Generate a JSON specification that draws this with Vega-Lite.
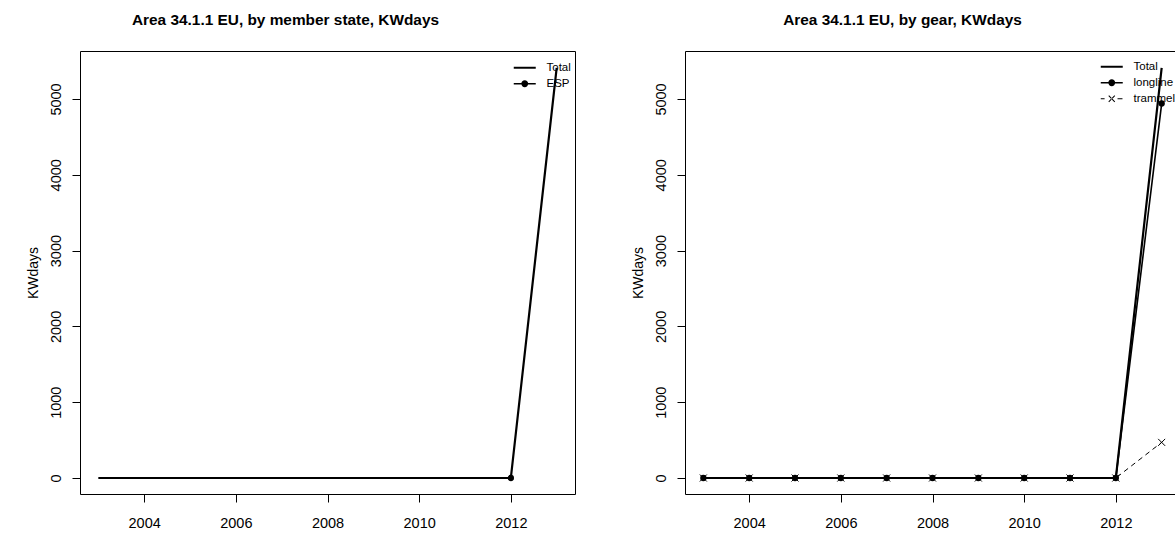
{
  "$schema": "https://vega.github.io/schema/vega-lite/v6.json",
  "padding": {"left": 25, "top": 12, "right": 0, "bottom": 0},
  "background": "white",
  "datasets": {
    "ms": [
      {"year": 2003, "series": "Total", "value": 0},
      {"year": 2004, "series": "Total", "value": 0},
      {"year": 2005, "series": "Total", "value": 0},
      {"year": 2006, "series": "Total", "value": 0},
      {"year": 2007, "series": "Total", "value": 0},
      {"year": 2008, "series": "Total", "value": 0},
      {"year": 2009, "series": "Total", "value": 0},
      {"year": 2010, "series": "Total", "value": 0},
      {"year": 2011, "series": "Total", "value": 0},
      {"year": 2012, "series": "Total", "value": 0},
      {"year": 2013, "series": "Total", "value": 5410},
      {"year": 2012, "series": "ESP", "value": 0}
    ],
    "gear": [
      {"year": 2003, "series": "Total", "value": 0},
      {"year": 2004, "series": "Total", "value": 0},
      {"year": 2005, "series": "Total", "value": 0},
      {"year": 2006, "series": "Total", "value": 0},
      {"year": 2007, "series": "Total", "value": 0},
      {"year": 2008, "series": "Total", "value": 0},
      {"year": 2009, "series": "Total", "value": 0},
      {"year": 2010, "series": "Total", "value": 0},
      {"year": 2011, "series": "Total", "value": 0},
      {"year": 2012, "series": "Total", "value": 0},
      {"year": 2013, "series": "Total", "value": 5410},
      {"year": 2003, "series": "longline", "value": 0},
      {"year": 2004, "series": "longline", "value": 0},
      {"year": 2005, "series": "longline", "value": 0},
      {"year": 2006, "series": "longline", "value": 0},
      {"year": 2007, "series": "longline", "value": 0},
      {"year": 2008, "series": "longline", "value": 0},
      {"year": 2009, "series": "longline", "value": 0},
      {"year": 2010, "series": "longline", "value": 0},
      {"year": 2011, "series": "longline", "value": 0},
      {"year": 2012, "series": "longline", "value": 0},
      {"year": 2013, "series": "longline", "value": 4940},
      {"year": 2003, "series": "trammel", "value": 0},
      {"year": 2004, "series": "trammel", "value": 0},
      {"year": 2005, "series": "trammel", "value": 0},
      {"year": 2006, "series": "trammel", "value": 0},
      {"year": 2007, "series": "trammel", "value": 0},
      {"year": 2008, "series": "trammel", "value": 0},
      {"year": 2009, "series": "trammel", "value": 0},
      {"year": 2010, "series": "trammel", "value": 0},
      {"year": 2011, "series": "trammel", "value": 0},
      {"year": 2012, "series": "trammel", "value": 0},
      {"year": 2013, "series": "trammel", "value": 470}
    ]
  },
  "resolve": {"scale": {"shape": "independent"}, "legend": {"shape": "independent"}},
  "config": {
    "font": "Liberation Sans",
    "view": {"stroke": "#000000", "strokeWidth": 1},
    "concat": {"spacing": 54},
    "axis": {
      "grid": false,
      "domain": false,
      "ticks": true,
      "tickColor": "#000000",
      "tickSize": 8,
      "labelColor": "#000000",
      "labelFont": "Liberation Sans",
      "labelFontSize": 14.5,
      "titleFont": "Liberation Sans",
      "titleFontSize": 14,
      "titleFontWeight": "normal",
      "titleColor": "#000000"
    },
    "title": {
      "font": "Liberation Sans",
      "fontSize": 15.4,
      "fontWeight": "bold",
      "color": "#000000",
      "frame": "group",
      "anchor": "middle",
      "baseline": "alphabetic",
      "offset": 23
    },
    "legend": {
      "orient": "none",
      "title": null,
      "labelFont": "Liberation Sans",
      "labelFontSize": 11.5,
      "labelColor": "#000000",
      "labelOffset": 16,
      "rowPadding": 3,
      "padding": 0,
      "symbolSize": 121,
      "symbolStrokeWidth": 0,
      "symbolOpacity": 1,
      "symbolFillColor": "#000000",
      "symbolStrokeColor": "#000000"
    }
  },
  "hconcat": [
    {
      "width": 495,
      "height": 443,
      "title": {"text": "Area 34.1.1 EU, by member state, KWdays", "dx": -42},
      "data": {"name": "ms"},
      "encoding": {
        "x": {
          "field": "year", "type": "quantitative",
          "scale": {"domain": [2002.6, 2013.4], "nice": false, "zero": false},
          "axis": {"values": [2004, 2006, 2008, 2010, 2012], "format": "d", "title": null, "labelPadding": 14, "labelFlush": false}
        },
        "y": {
          "field": "value", "type": "quantitative",
          "scale": {"domain": [-211, 5633], "nice": false, "zero": false},
          "axis": {"values": [0, 1000, 2000, 3000, 4000, 5000], "format": "d", "title": "KWdays",
                   "labelAngle": -90, "labelAlign": "center", "labelBaseline": "bottom", "labelPadding": 9, "titlePadding": 8}
        }
      },
      "layer": [
        {
          "transform": [{"filter": "datum.series === 'Total'"}],
          "mark": {"type": "line", "color": "#000000", "strokeWidth": 2.2, "clip": true}
        },
        {
          "transform": [{"filter": "datum.series === 'ESP'"}],
          "mark": {"type": "point", "filled": true, "color": "#000000", "size": 40, "opacity": 1}
        },
        {
          "mark": {"type": "point", "filled": true, "color": "#000000", "opacity": 0, "size": 121},
          "encoding": {
            "shape": {
              "field": "series", "type": "nominal",
              "scale": {"domain": ["Total", "ESP"], "range": [
                "M-2,-0.18H2V0.18H-2Z",
                "M-2,-0.13H2V0.13H-2Z M-0.62,0A0.62,0.62,0,1,1,0.62,0A0.62,0.62,0,1,1,-0.62,0Z"
              ]},
              "legend": {"legendX": 439, "legendY": 11}
            }
          }
        }
      ]
    },
    {
      "width": 495,
      "height": 443,
      "title": {"text": "Area 34.1.1 EU, by gear, KWdays", "dx": -30},
      "data": {"name": "gear"},
      "encoding": {
        "x": {
          "field": "year", "type": "quantitative",
          "scale": {"domain": [2002.6, 2013.4], "nice": false, "zero": false},
          "axis": {"values": [2004, 2006, 2008, 2010, 2012], "format": "d", "title": null, "labelPadding": 14, "labelFlush": false}
        },
        "y": {
          "field": "value", "type": "quantitative",
          "scale": {"domain": [-211, 5633], "nice": false, "zero": false},
          "axis": {"values": [0, 1000, 2000, 3000, 4000, 5000], "format": "d", "title": "KWdays",
                   "labelAngle": -90, "labelAlign": "center", "labelBaseline": "bottom", "labelPadding": 9, "titlePadding": 8}
        }
      },
      "layer": [
        {
          "transform": [{"filter": "datum.series === 'Total'"}],
          "mark": {"type": "line", "color": "#000000", "strokeWidth": 2.2, "clip": true}
        },
        {
          "transform": [{"filter": "datum.series === 'longline'"}],
          "mark": {"type": "line", "color": "#000000", "strokeWidth": 1.6, "clip": true}
        },
        {
          "transform": [{"filter": "datum.series === 'longline'"}],
          "mark": {"type": "point", "filled": true, "color": "#000000", "size": 40, "opacity": 1}
        },
        {
          "transform": [{"filter": "datum.series === 'trammel'"}],
          "mark": {"type": "line", "color": "#000000", "strokeWidth": 1, "strokeDash": [5, 4], "clip": true}
        },
        {
          "transform": [{"filter": "datum.series === 'trammel'"}],
          "mark": {"type": "point", "shape": "M-1,-1L1,1M-1,1L1,-1", "filled": false, "color": "#000000", "strokeWidth": 1, "size": 49, "opacity": 1}
        },
        {
          "mark": {"type": "point", "filled": true, "color": "#000000", "opacity": 0, "size": 121},
          "encoding": {
            "shape": {
              "field": "series", "type": "nominal",
              "scale": {"domain": ["Total", "longline", "trammel"], "range": [
                "M-2,-0.18H2V0.18H-2Z",
                "M-2,-0.13H2V0.13H-2Z M-0.62,0A0.62,0.62,0,1,1,0.62,0A0.62,0.62,0,1,1,-0.62,0Z",
                "M-2,-0.09H-1.3V0.09H-2Z M1.05,-0.09H1.95V0.09H1.05Z M-0.486,-0.614L0.614,0.486L0.486,0.614L-0.614,-0.486Z M-0.486,0.614L0.614,-0.486L0.486,-0.614L-0.614,0.486Z"
              ]},
              "legend": {"legendX": 421, "legendY": 10}
            }
          }
        }
      ]
    }
  ]
}
